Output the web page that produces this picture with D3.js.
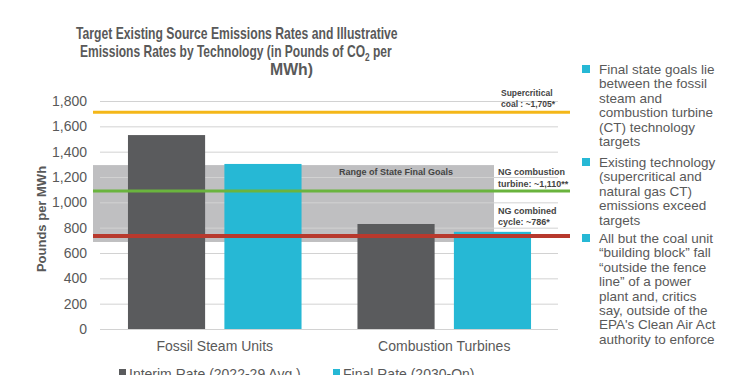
<!DOCTYPE html>
<html>
<head>
<meta charset="utf-8">
<script src="https://cdn.jsdelivr.net/npm/d3@7"></script>
<style>
  body { margin: 0; background: #fff; }
  svg { font-family: "Liberation Sans", Arial, sans-serif; }
</style>
</head>
<body>
<div id="chart"></div>
<script>
// Datos del gráfico
const categories = ["Fossil Steam Units", "Combustion Turbines"];
const seriesNames = ["Interim Rate (2022-29 Avg.)", "Final Rate (2030-On)"];
const interimValues = [1531, 829];
const finalValues = [1303, 767];
const yTicks = [0, 200, 400, 600, 800, 1000, 1200, 1400, 1600, 1800];
const goalRange = [687, 1294];
const refLineValues = [1712, 1090, 735];
const refLineLabels = [
    ["Supercritical", "coal : ~1,705*"],
    ["NG combustion", "turbine: ~1,110**"],
    ["NG combined", "cycle: ~786*"]
];
const titleLines = [
    ["Target Existing Source Emissions Rates and Illustrative"],
    ["Emissions Rates by Technology (in Pounds of CO", "2", " per"],
    ["MWh)"]
];
const bullets = [
    ["Final state goals lie", "between the fossil", "steam and", "combustion turbine", "(CT) technology", "targets"],
    ["Existing technology", "(supercritical and", "natural gas CT)", "emissions exceed", "targets"],
    ["All but the coal unit", "\u201cbuilding block\u201d fall", "\u201coutside the fence", "line\u201d of a power", "plant and, critics", "say, outside of the", "EPA's Clean Air Act", "authority to enforce"]
];

const width = 740;
const height = 375;
const colors = ["#5a5b5d", "#26b8d5"];
const lineColors = ["#f4b718", "#6ab43e", "#b8392d"];
const textColor = "#595959";

const svg = d3.select("#chart")
    .append("svg")
    .attr("width", width)
    .attr("height", height);

// Escalas
const y = d3.scaleLinear().domain([0, 1800]).range([329, 101]);
const x0 = d3.scaleBand().domain(categories).range([100, 559]).padding(0);
const x1 = d3.scaleBand().domain(seriesNames).range([0, x0.bandwidth()])
    .paddingInner(0.2).paddingOuter(0.29);

// Título (comprimido horizontalmente como en la imagen)
const titlePos = [[76, 39, 322], [80, 57, 312], [270, 75, 43]];
titleLines.forEach((parts, i) => {
    const t = svg.append("text")
        .attr("font-size", 16)
        .attr("font-weight", "bold")
        .attr("fill", textColor);
    parts.forEach((p, k) => {
        const sp = t.append("tspan").text(p);
        if (parts.length === 3 && k === 1) sp.attr("font-size", 11).attr("dy", 4);
        if (parts.length === 3 && k === 2) sp.attr("dy", -4);
    });
    const w = t.node().getComputedTextLength();
    const [tx, ty, tw] = titlePos[i];
    t.attr("transform", `translate(${tx},${ty}) scale(${tw / w},1)`);
});

// Rango de metas estatales
svg.append("rect")
    .attr("x", 93)
    .attr("width", 494 - 93)
    .attr("y", y(goalRange[1]))
    .attr("height", y(goalRange[0]) - y(goalRange[1]))
    .attr("fill", "#bfbfc1");

// Eje Y con líneas de cuadrícula
const yAxis = svg.append("g")
    .attr("transform", "translate(100,0)")
    .call(d3.axisLeft(y).tickValues(yTicks).tickSize(-458).tickPadding(13)
        .tickFormat(d3.format(",")));
yAxis.select(".domain").remove();
yAxis.selectAll(".tick line").attr("stroke", "#d2d2d2").attr("stroke-width", 1);
yAxis.selectAll(".tick text")
    .attr("font-size", 14)
    .attr("fill", textColor)
    .attr("font-family", "Liberation Sans, Arial, sans-serif");

svg.append("text")
    .attr("transform", "translate(46,219) rotate(-90)")
    .attr("text-anchor", "middle")
    .attr("font-size", 13)
    .attr("font-weight", "bold")
    .attr("fill", textColor)
    .text("Pounds per MWh");

svg.append("text")
    .attr("x", 396).attr("y", 175)
    .attr("text-anchor", "middle")
    .attr("font-size", 9)
    .attr("font-weight", "bold")
    .attr("fill", "#444")
    .text("Range of State Final Goals");

// Barras
const groups = svg.selectAll(".grp")
    .data(categories)
    .enter()
    .append("g")
    .attr("transform", d => `translate(${x0(d)},0)`);

groups.selectAll("rect")
    .data((d, i) => [interimValues[i], finalValues[i]].map((v, j) => ({ s: seriesNames[j], v: v, j: j })))
    .enter()
    .append("rect")
    .attr("x", d => x1(d.s))
    .attr("width", x1.bandwidth())
    .attr("y", d => y(d.v))
    .attr("height", d => y(0) - y(d.v))
    .attr("fill", d => colors[d.j]);

// Líneas de referencia
svg.selectAll(".ref")
    .data(refLineValues)
    .enter()
    .append("line")
    .attr("x1", 93).attr("x2", 570)
    .attr("y1", d => y(d)).attr("y2", d => y(d))
    .attr("stroke", (d, i) => lineColors[i])
    .attr("stroke-width", (d, i) => i === 2 ? 4 : 3);

const labelY = [[96, 107], [175, 187], [214, 225]];
refLineLabels.forEach((lines, i) => {
    lines.forEach((t, k) => {
        svg.append("text")
            .attr("x", i === 0 ? 501 : 498)
            .attr("y", labelY[i][k])
            .attr("font-size", i === 0 ? 8.5 : 9)
            .attr("font-weight", "bold")
            .attr("fill", "#444")
            .text(t);
    });
});

// Etiquetas de categorías
svg.selectAll(".cat")
    .data(categories)
    .enter()
    .append("text")
    .attr("x", d => x0(d) + x0.bandwidth() / 2)
    .attr("y", 351)
    .attr("text-anchor", "middle")
    .attr("font-size", 14)
    .attr("fill", textColor)
    .text(d => d);

// Leyenda (cortada en el borde inferior, como en la imagen)
const legendX = [119, 333];
seriesNames.forEach((s, i) => {
    svg.append("rect")
        .attr("x", legendX[i]).attr("y", 369)
        .attr("width", 7).attr("height", 7)
        .attr("fill", colors[i]);
    svg.append("text")
        .attr("x", legendX[i] + 10).attr("y", 379)
        .attr("font-size", 14)
        .attr("fill", textColor)
        .text(s);
});

// Viñetas de texto a la derecha
const bulletTop = [69, 162, 238];
bullets.forEach((lines, i) => {
    svg.append("rect")
        .attr("x", 582).attr("y", bulletTop[i] - 4)
        .attr("width", 8).attr("height", 8)
        .attr("fill", "#26b8d5");
    lines.forEach((t, k) => {
        svg.append("text")
            .attr("x", 599)
            .attr("y", bulletTop[i] + 5 + k * 14.4)
            .attr("font-size", 13.5)
            .attr("fill", textColor)
            .text(t);
    });
});
</script>
</body>
</html>
